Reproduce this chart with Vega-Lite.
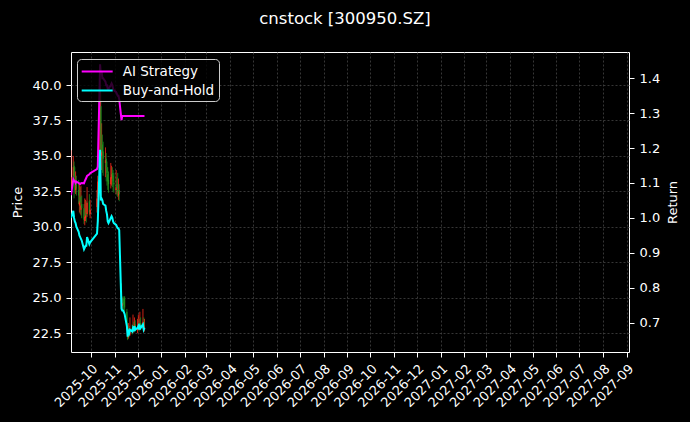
{
  "$schema": "https://vega.github.io/schema/vega-lite/v6.json",
  "width": 558,
  "height": 300,
  "autosize": {"type": "none"},
  "padding": {"left": 71, "top": 52, "right": 61, "bottom": 70},
  "background": "black",
  "title": {"text": "cnstock [300950.SZ]", "color": "white", "fontSize": 16.5, "fontWeight": "normal", "font": "DejaVu Sans", "anchor": "middle", "offset": 25, "dx": -5},
  "config": {
    "view": {"stroke": "white", "strokeWidth": 1},
    "font": "DejaVu Sans",
    "axis": {"labelColor": "white", "titleColor": "white", "tickColor": "white", "domainColor": "white", "labelFont": "DejaVu Sans", "titleFont": "DejaVu Sans", "labelFontSize": 13, "titleFontSize": 13, "titleFontWeight": "normal", "tickSize": 5, "labelPadding": 5, "gridColor": "#444444", "gridDash": [2, 2], "gridWidth": 0.8}
  },
  "data": {"values": [
    {"date": "2025-09-05", "open": 32.8, "high": 35.4, "low": 32.6, "close": 33.5, "ai": 1.065, "bh": 1.0},
    {"date": "2025-09-08", "open": 33.6, "high": 35.0, "low": 33.2, "close": 34.2, "ai": 1.11, "bh": 1.02},
    {"date": "2025-09-09", "open": 34.3, "high": 34.6, "low": 32.0, "close": 33.5, "ai": 1.105, "bh": 1.0},
    {"date": "2025-09-10", "open": 33.4, "high": 34.2, "low": 32.4, "close": 33.2, "ai": 1.105, "bh": 0.99},
    {"date": "2025-09-11", "open": 32.6, "high": 33.9, "low": 32.3, "close": 33.0, "ai": 1.1, "bh": 0.985},
    {"date": "2025-09-12", "open": 33.2, "high": 33.6, "low": 32.2, "close": 32.7, "ai": 1.104, "bh": 0.975},
    {"date": "2025-09-15", "open": 32.6, "high": 33.3, "low": 31.6, "close": 32.2, "ai": 1.1, "bh": 0.96},
    {"date": "2025-09-16", "open": 31.5, "high": 33.1, "low": 31.0, "close": 31.8, "ai": 1.098, "bh": 0.95},
    {"date": "2025-09-17", "open": 32.1, "high": 32.8, "low": 30.9, "close": 31.7, "ai": 1.097, "bh": 0.945},
    {"date": "2025-09-18", "open": 31.2, "high": 32.9, "low": 30.8, "close": 31.5, "ai": 1.099, "bh": 0.94},
    {"date": "2025-09-19", "open": 31.6, "high": 32.2, "low": 30.6, "close": 31.3, "ai": 1.1, "bh": 0.935},
    {"date": "2025-09-22", "open": 31.3, "high": 31.6, "low": 30.2, "close": 30.5, "ai": 1.099, "bh": 0.91},
    {"date": "2025-09-23", "open": 30.4, "high": 32.0, "low": 30.1, "close": 30.7, "ai": 1.105, "bh": 0.915},
    {"date": "2025-09-24", "open": 30.6, "high": 31.9, "low": 30.4, "close": 30.8, "ai": 1.11, "bh": 0.92},
    {"date": "2025-09-25", "open": 31.0, "high": 31.8, "low": 30.3, "close": 30.8, "ai": 1.115, "bh": 0.92},
    {"date": "2025-09-26", "open": 30.9, "high": 32.8, "low": 30.7, "close": 31.7, "ai": 1.12, "bh": 0.945},
    {"date": "2025-09-29", "open": 31.8, "high": 32.3, "low": 30.8, "close": 31.0, "ai": 1.125, "bh": 0.925},
    {"date": "2025-09-30", "open": 30.9, "high": 31.9, "low": 30.6, "close": 31.2, "ai": 1.128, "bh": 0.93},
    {"date": "2025-10-09", "open": 31.4, "high": 32.6, "low": 31.0, "close": 32.0, "ai": 1.14, "bh": 0.955},
    {"date": "2025-10-10", "open": 32.1, "high": 33.6, "low": 30.3, "close": 33.2, "ai": 1.147, "bh": 0.99},
    {"date": "2025-10-13", "open": 33.5, "high": 40.3, "low": 33.3, "close": 39.9, "ai": 1.44, "bh": 1.195},
    {"date": "2025-10-14", "open": 38.5, "high": 39.5, "low": 34.8, "close": 35.2, "ai": 1.41, "bh": 1.05},
    {"date": "2025-10-15", "open": 35.0, "high": 37.3, "low": 34.0, "close": 35.3, "ai": 1.42, "bh": 1.055},
    {"date": "2025-10-16", "open": 35.8, "high": 36.5, "low": 33.8, "close": 35.2, "ai": 1.4, "bh": 1.05},
    {"date": "2025-10-17", "open": 35.3, "high": 36.0, "low": 33.6, "close": 34.8, "ai": 1.4, "bh": 1.04},
    {"date": "2025-10-20", "open": 34.5, "high": 35.6, "low": 33.5, "close": 34.7, "ai": 1.39, "bh": 1.035},
    {"date": "2025-10-21", "open": 34.8, "high": 35.2, "low": 33.2, "close": 34.2, "ai": 1.38, "bh": 1.02},
    {"date": "2025-10-22", "open": 34.2, "high": 34.6, "low": 32.9, "close": 33.8, "ai": 1.38, "bh": 1.01},
    {"date": "2025-10-23", "open": 33.7, "high": 34.2, "low": 32.6, "close": 33.2, "ai": 1.37, "bh": 0.99},
    {"date": "2025-10-24", "open": 33.3, "high": 33.9, "low": 32.4, "close": 33.0, "ai": 1.37, "bh": 0.985},
    {"date": "2025-10-27", "open": 33.0, "high": 34.5, "low": 32.7, "close": 33.5, "ai": 1.38, "bh": 1.0},
    {"date": "2025-10-28", "open": 33.4, "high": 34.3, "low": 32.9, "close": 33.7, "ai": 1.385, "bh": 1.005},
    {"date": "2025-10-29", "open": 33.8, "high": 34.2, "low": 32.8, "close": 33.5, "ai": 1.38, "bh": 1.0},
    {"date": "2025-10-30", "open": 33.6, "high": 34.0, "low": 32.5, "close": 33.2, "ai": 1.37, "bh": 0.99},
    {"date": "2025-10-31", "open": 33.1, "high": 33.8, "low": 32.4, "close": 33.0, "ai": 1.365, "bh": 0.985},
    {"date": "2025-11-03", "open": 32.6, "high": 34.0, "low": 32.3, "close": 32.8, "ai": 1.36, "bh": 0.98},
    {"date": "2025-11-04", "open": 33.0, "high": 33.5, "low": 32.2, "close": 32.7, "ai": 1.355, "bh": 0.975},
    {"date": "2025-11-05", "open": 32.6, "high": 33.8, "low": 32.1, "close": 32.5, "ai": 1.35, "bh": 0.97},
    {"date": "2025-11-06", "open": 32.2, "high": 33.4, "low": 31.9, "close": 32.5, "ai": 1.35, "bh": 0.97},
    {"date": "2025-11-07", "open": 32.6, "high": 33.0, "low": 31.8, "close": 32.3, "ai": 1.34, "bh": 0.965},
    {"date": "2025-11-10", "open": 25.5, "high": 26.0, "low": 24.5, "close": 24.8, "ai": 1.28, "bh": 0.74},
    {"date": "2025-11-11", "open": 24.4, "high": 25.0, "low": 24.1, "close": 24.6, "ai": 1.292, "bh": 0.735},
    {"date": "2025-11-12", "open": 24.9, "high": 25.1, "low": 24.2, "close": 24.6, "ai": 1.292, "bh": 0.735},
    {"date": "2025-11-13", "open": 24.7, "high": 25.0, "low": 24.0, "close": 24.5, "ai": 1.292, "bh": 0.73},
    {"date": "2025-11-14", "open": 25.0, "high": 25.1, "low": 24.0, "close": 24.3, "ai": 1.292, "bh": 0.725},
    {"date": "2025-11-17", "open": 24.0, "high": 24.2, "low": 22.9, "close": 23.1, "ai": 1.292, "bh": 0.69},
    {"date": "2025-11-18", "open": 23.0, "high": 23.2, "low": 22.0, "close": 22.1, "ai": 1.292, "bh": 0.66},
    {"date": "2025-11-19", "open": 22.2, "high": 23.2, "low": 22.1, "close": 22.6, "ai": 1.292, "bh": 0.675},
    {"date": "2025-11-20", "open": 22.7, "high": 23.0, "low": 22.2, "close": 22.4, "ai": 1.292, "bh": 0.67},
    {"date": "2025-11-21", "open": 22.4, "high": 23.6, "low": 22.3, "close": 22.8, "ai": 1.292, "bh": 0.68},
    {"date": "2025-11-24", "open": 22.8, "high": 23.1, "low": 22.4, "close": 22.6, "ai": 1.292, "bh": 0.675},
    {"date": "2025-11-25", "open": 22.6, "high": 23.8, "low": 22.5, "close": 22.9, "ai": 1.292, "bh": 0.685},
    {"date": "2025-11-26", "open": 23.0, "high": 23.3, "low": 22.6, "close": 22.8, "ai": 1.292, "bh": 0.68},
    {"date": "2025-11-27", "open": 22.8, "high": 23.6, "low": 22.7, "close": 23.1, "ai": 1.292, "bh": 0.69},
    {"date": "2025-11-28", "open": 23.1, "high": 23.4, "low": 22.6, "close": 22.8, "ai": 1.292, "bh": 0.68},
    {"date": "2025-12-01", "open": 22.7, "high": 23.5, "low": 22.5, "close": 22.9, "ai": 1.292, "bh": 0.685},
    {"date": "2025-12-02", "open": 22.9, "high": 23.8, "low": 22.8, "close": 23.1, "ai": 1.292, "bh": 0.69},
    {"date": "2025-12-03", "open": 23.2, "high": 23.5, "low": 22.6, "close": 22.8, "ai": 1.292, "bh": 0.68},
    {"date": "2025-12-04", "open": 22.8, "high": 24.0, "low": 22.7, "close": 23.1, "ai": 1.292, "bh": 0.69},
    {"date": "2025-12-05", "open": 23.2, "high": 23.6, "low": 22.7, "close": 22.9, "ai": 1.292, "bh": 0.685},
    {"date": "2025-12-08", "open": 22.9, "high": 24.2, "low": 22.8, "close": 23.3, "ai": 1.292, "bh": 0.695},
    {"date": "2025-12-09", "open": 23.3, "high": 23.6, "low": 22.6, "close": 22.8, "ai": 1.292, "bh": 0.68},
    {"date": "2025-12-10", "open": 22.7, "high": 23.5, "low": 22.6, "close": 22.9, "ai": 1.292, "bh": 0.685}
  ]},
  "encoding": {
    "x": {"field": "date", "type": "temporal",
      "scale": {"domain": ["2025-09-05", "2027-09-04"], "nice": false, "padding": 0},
      "axis": {"title": null, "format": "%Y-%m", "tickCount": {"interval": "month", "step": 1}, "labelAngle": -45, "labelAlign": "right", "labelBaseline": "top", "grid": true, "labelOverlap": false, "labelFlush": false, "domain": false}}
  },
  "layer": [
    {
      "encoding": {
        "y": {"type": "quantitative", "scale": {"domain": [21.16, 42.33], "nice": false, "zero": false},
          "axis": {"title": "Price", "orient": "left", "values": [22.5, 25, 27.5, 30, 32.5, 35, 37.5, 40], "format": ".1f", "grid": true, "domain": false, "titlePadding": 8}}
      },
      "layer": [
        {"mark": {"type": "rule", "strokeWidth": 0.8, "clip": true},
         "encoding": {"y": {"field": "low"}, "y2": {"field": "high"},
           "color": {"condition": {"test": "datum.close >= datum.open", "value": "#ff2a1a"}, "value": "#1e8c1e"}}},
        {"mark": {"type": "bar", "size": 1.2, "clip": true},
         "encoding": {"y": {"field": "open"}, "y2": {"field": "close"},
           "color": {"condition": {"test": "datum.close >= datum.open", "value": "#ff2a1a"}, "value": "#1e8c1e"}}}
      ]
    },
    {
      "transform": [{"fold": ["ai", "bh"], "as": ["series", "value"]}],
      "mark": {"type": "line", "strokeWidth": 2, "clip": true},
      "encoding": {
        "y": {"field": "value", "type": "quantitative", "scale": {"domain": [0.616, 1.475], "nice": false, "zero": false},
          "axis": {"title": "Return", "orient": "right", "titleAngle": 270, "titleBaseline": "top", "values": [0.7, 0.8, 0.9, 1.0, 1.1, 1.2, 1.3, 1.4], "format": ".1f", "grid": false, "domain": false, "titlePadding": 7}},
        "color": {"field": "series", "type": "nominal",
          "scale": {"domain": ["ai", "bh"], "range": ["#ff00ff", "#00ffff"]},
          "legend": {"title": null, "orient": "none", "legendX": 6, "legendY": 7, "labelExpr": "datum.value == 'ai' ? 'AI Strategy' : 'Buy-and-Hold'",
            "labelColor": "white", "labelFontSize": 13.5, "labelFont": "DejaVu Sans",
            "symbolType": "M-1.04,0H3.09", "symbolSize": 225, "symbolStrokeWidth": 2,
            "fillColor": "rgba(0,0,0,0.8)", "strokeColor": "#cccccc", "cornerRadius": 4, "padding": 4, "rowPadding": 4, "labelOffset": 24.7}}
      }
    }
  ],
  "resolve": {"scale": {"y": "independent"}}
}
